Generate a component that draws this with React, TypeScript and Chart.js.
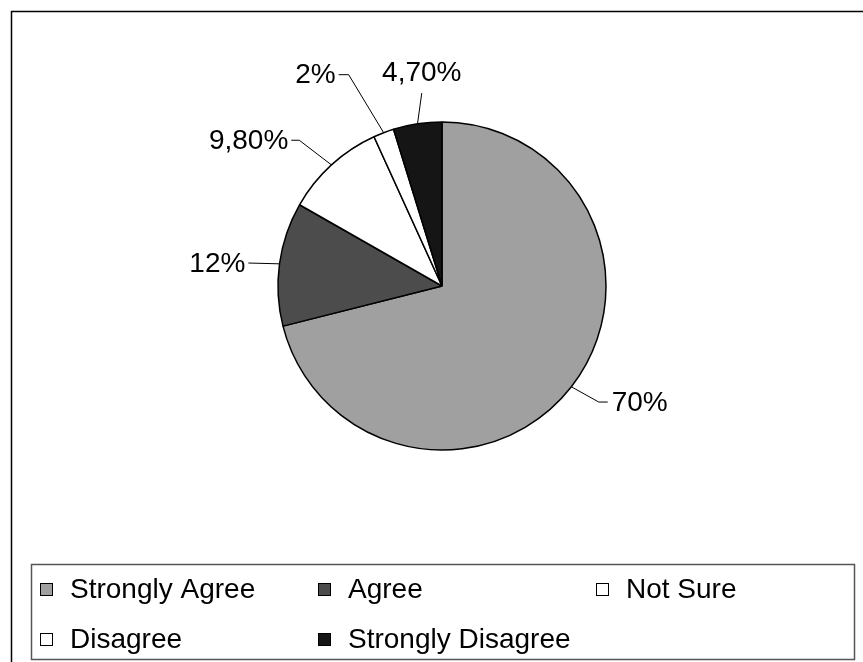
import React, { useEffect, useRef } from 'react';
import { Chart, registerables } from 'chart.js';

Chart.register(...registerables);

// ---- data ----
const categories = ['Strongly Agree', 'Agree', 'Not Sure', 'Disagree', 'Strongly Disagree'];
const values = [70, 12, 9.8, 2, 4.7];
const valueLabels = ['70%', '12%', '9,80%', '2%', '4,70%'];

// ---- styles ----
const sliceColors = ['#a0a0a0', '#4c4c4c', '#ffffff', '#ffffff', '#151515'];
const labelExtra = [31, 31, 40, 67, 30];
const labelAngleShift = [-1.4, -1, -2, -3, 2.6];
const labelSide = ['right', 'left', 'left', 'left', 'top'];
const labelHLen = [9, 0, 8, 10, 0];
const legendColX = [40, 318, 596];
const legendRowY = [590, 640];
const legendSlots = [[0, 0], [0, 1], [0, 2], [1, 0], [1, 1]];
const FONT = '28px "Liberation Sans", Arial, sans-serif';

const decorPlugin = {
  id: 'decor',
  afterDraw(chart: any) {
    const ctx = chart.ctx as CanvasRenderingContext2D;
    ctx.save();
    // outer frame
    ctx.strokeStyle = '#000';
    ctx.lineWidth = 1.5;
    ctx.beginPath();
    ctx.moveTo(11.5, 700);
    ctx.lineTo(11.5, 11.5);
    ctx.lineTo(900, 11.5);
    ctx.stroke();

    // slice labels with leader lines
    const meta = chart.getDatasetMeta(0);
    ctx.font = FONT;
    ctx.fillStyle = '#000';
    ctx.lineWidth = 1;
    meta.data.forEach((arc: any, i: number) => {
      const p = arc.getProps(['x', 'y', 'startAngle', 'endAngle', 'outerRadius'], true);
      const mid = (p.startAngle + p.endAngle) / 2;
      const R = p.outerRadius;
      const ex = p.x + R * Math.cos(mid);
      const ey = p.y + R * Math.sin(mid);
      const a2 = mid + (labelAngleShift[i] * Math.PI) / 180;
      const bx = p.x + (R + labelExtra[i]) * Math.cos(a2);
      const by = p.y + (R + labelExtra[i]) * Math.sin(a2);
      const side = labelSide[i];
      let endX = bx;
      if (side === 'right') endX = bx + labelHLen[i];
      if (side === 'left') endX = bx - labelHLen[i];
      ctx.beginPath();
      ctx.moveTo(ex, ey);
      ctx.lineTo(bx, by);
      ctx.lineTo(endX, by);
      ctx.stroke();
      if (side === 'right') {
        ctx.textAlign = 'left';
        ctx.textBaseline = 'middle';
        ctx.fillText(valueLabels[i], endX + 4, by + 1);
      } else if (side === 'left') {
        ctx.textAlign = 'right';
        ctx.textBaseline = 'middle';
        ctx.fillText(valueLabels[i], endX - 3, by + 1);
      } else {
        ctx.textAlign = 'center';
        ctx.textBaseline = 'alphabetic';
        ctx.fillText(valueLabels[i], bx, by - 12);
      }
    });

    // legend box
    ctx.strokeStyle = '#555';
    ctx.lineWidth = 1.5;
    ctx.strokeRect(31.5, 564.5, 823, 95);
    ctx.textAlign = 'left';
    ctx.textBaseline = 'middle';
    categories.forEach((c, i) => {
      const [r, col] = legendSlots[i];
      const x = legendColX[col];
      const y = legendRowY[r];
      ctx.fillStyle = sliceColors[i];
      ctx.fillRect(x, y - 7, 13, 13);
      ctx.strokeStyle = '#000';
      ctx.lineWidth = 1;
      ctx.strokeRect(x + 0.5, y - 6.5, 12, 12);
      ctx.fillStyle = '#000';
      ctx.fillText(c, x + 30, y);
    });
    ctx.restore();
  },
};

export default function App() {
  const ref = useRef<HTMLCanvasElement | null>(null);
  useEffect(() => {
    if (!ref.current) return;
    const chart = new Chart(ref.current, {
      type: 'pie',
      data: {
        labels: categories,
        datasets: [
          {
            data: values,
            backgroundColor: sliceColors,
            borderColor: '#000',
            borderWidth: 1.5,
            hoverOffset: 0,
            radius: 164,
          } as any,
        ],
      },
      options: {
        responsive: false,
        animation: false,
        layout: { padding: { left: 278, right: 257, top: 122, bottom: 212 } },
        plugins: { legend: { display: false }, tooltip: { enabled: false } },
      },
      plugins: [decorPlugin],
    });
    return () => chart.destroy();
  }, []);
  return (
    <div style={{ position: 'absolute', left: 0, top: 0, width: 863, height: 662, background: '#fff' }}>
      <canvas ref={ref} width={863} height={662} style={{ width: 863, height: 662 }} />
    </div>
  );
}
